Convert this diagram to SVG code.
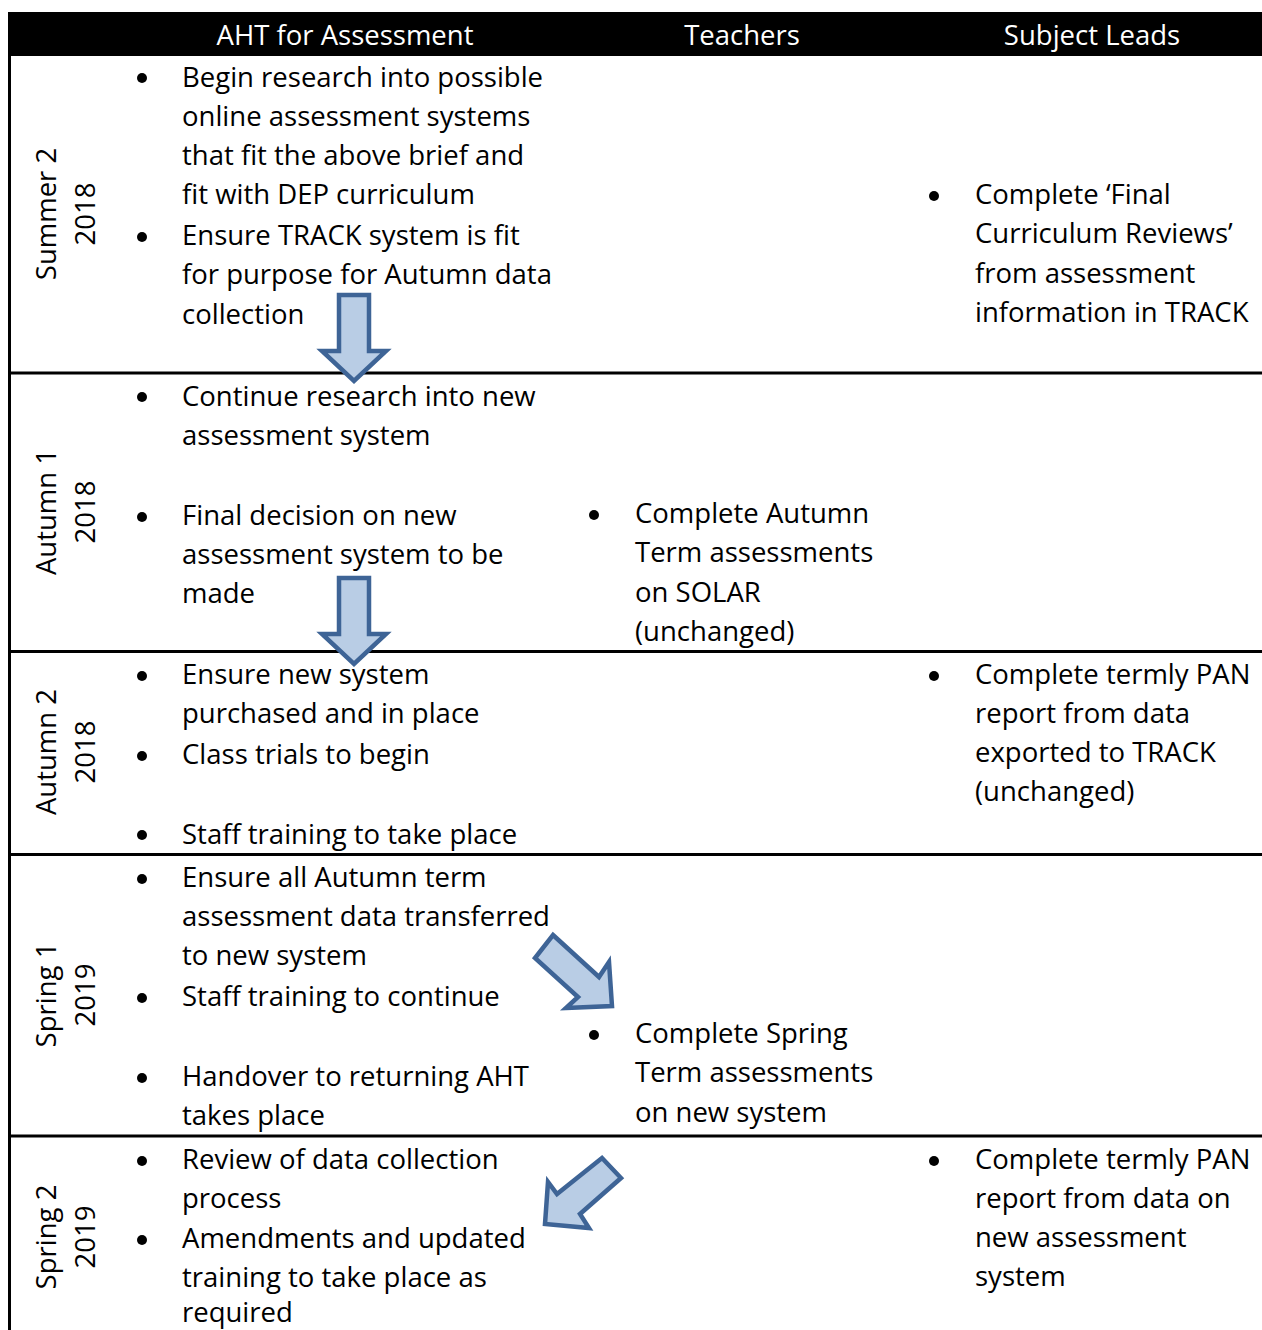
<svg xmlns="http://www.w3.org/2000/svg" width="1262" height="1330" viewBox="0 0 1262 1330">
<style>
text{font-family:"Open Sans","Noto Sans","Liberation Sans",sans-serif;font-size:27.5px;fill:#000}
.hd{fill:#fff;text-anchor:middle}
.lbl{text-anchor:middle}
.rule{stroke:#000;stroke-width:3;fill:none}
.arrow{fill:#b9cde5;stroke:#3e6496;stroke-width:4.5;stroke-linejoin:miter}
</style>
<defs>
<circle id="b" r="5" fill="#000"/>
</defs>
<rect x="0" y="0" width="1262" height="1330" fill="#fff"/>

<g id="table">
<rect x="8" y="12" width="1254" height="44" fill="#000"/>
<line class="rule" x1="9.5" y1="12" x2="9.5" y2="1330"/>
<line class="rule" x1="9" y1="373" x2="1262" y2="373"/>
<line class="rule" x1="9" y1="651.5" x2="1262" y2="651.5"/>
<line class="rule" x1="9" y1="854.5" x2="1262" y2="854.5"/>
<line class="rule" x1="9" y1="1136" x2="1262" y2="1136"/>
</g>

<g id="header">
<text class="hd" x="345" y="45">AHT for Assessment</text>
<text class="hd" x="742" y="45">Teachers</text>
<text class="hd" x="1092" y="45">Subject Leads</text>
</g>

<g id="row-summer2">
<text class="lbl" transform="translate(56,214) rotate(-90)">Summer 2</text>
<text class="lbl" transform="translate(95,214) rotate(-90)">2018</text>
<use href="#b" x="142" y="78"/>
<text x="182" y="87">Begin research into possible</text>
<text x="182" y="126">online assessment systems</text>
<text x="182" y="165">that fit the above brief and</text>
<text x="182" y="204">fit with DEP curriculum</text>
<use href="#b" x="142" y="237"/>
<text x="182" y="245">Ensure TRACK system is fit</text>
<text x="182" y="284">for purpose for Autumn data</text>
<text x="182" y="324">collection</text>
<use href="#b" x="934" y="196"/>
<text x="975" y="204">Complete ‘Final</text>
<text x="975" y="243">Curriculum Reviews’</text>
<text x="975" y="283">from assessment</text>
<text x="975" y="322">information in TRACK</text>
</g>

<g id="row-autumn1">
<text class="lbl" transform="translate(56,512) rotate(-90)">Autumn 1</text>
<text class="lbl" transform="translate(95,512) rotate(-90)">2018</text>
<use href="#b" x="142" y="397"/>
<text x="182" y="406">Continue research into new</text>
<text x="182" y="445">assessment system</text>
<use href="#b" x="142" y="517"/>
<text x="182" y="525">Final decision on new</text>
<text x="182" y="564">assessment system to be</text>
<text x="182" y="603">made</text>
<use href="#b" x="594" y="515"/>
<text x="635" y="523">Complete Autumn</text>
<text x="635" y="562">Term assessments</text>
<text x="635" y="602">on SOLAR</text>
<text x="635" y="641">(unchanged)</text>
</g>

<g id="row-autumn2">
<text class="lbl" transform="translate(56,752) rotate(-90)">Autumn 2</text>
<text class="lbl" transform="translate(95,752) rotate(-90)">2018</text>
<use href="#b" x="142" y="676"/>
<text x="182" y="684">Ensure new system</text>
<text x="182" y="723">purchased and in place</text>
<use href="#b" x="142" y="756"/>
<text x="182" y="764">Class trials to begin</text>
<use href="#b" x="142" y="835"/>
<text x="182" y="844">Staff training to take place</text>
<use href="#b" x="934" y="676"/>
<text x="975" y="684">Complete termly PAN</text>
<text x="975" y="723">report from data</text>
<text x="975" y="762">exported to TRACK</text>
<text x="975" y="801">(unchanged)</text>
</g>

<g id="row-spring1">
<text class="lbl" transform="translate(56,995) rotate(-90)">Spring 1</text>
<text class="lbl" transform="translate(95,995) rotate(-90)">2019</text>
<use href="#b" x="142" y="879"/>
<text x="182" y="887">Ensure all Autumn term</text>
<text x="182" y="926">assessment data transferred</text>
<text x="182" y="965">to new system</text>
<use href="#b" x="142" y="998"/>
<text x="182" y="1006">Staff training to continue</text>
<use href="#b" x="142" y="1078"/>
<text x="182" y="1086">Handover to returning AHT</text>
<text x="182" y="1125">takes place</text>
<use href="#b" x="594" y="1035"/>
<text x="635" y="1043">Complete Spring</text>
<text x="635" y="1082">Term assessments</text>
<text x="635" y="1122">on new system</text>
</g>

<g id="row-spring2">
<text class="lbl" transform="translate(56,1237) rotate(-90)">Spring 2</text>
<text class="lbl" transform="translate(95,1237) rotate(-90)">2019</text>
<use href="#b" x="142" y="1161"/>
<text x="182" y="1169">Review of data collection</text>
<text x="182" y="1208">process</text>
<use href="#b" x="142" y="1240"/>
<text x="182" y="1248">Amendments and updated</text>
<text x="182" y="1287">training to take place as</text>
<text x="182" y="1322">required</text>
<use href="#b" x="934" y="1161"/>
<text x="975" y="1169">Complete termly PAN</text>
<text x="975" y="1208">report from data on</text>
<text x="975" y="1247">new assessment</text>
<text x="975" y="1286">system</text>
</g>

<g id="connectors">
<polygon class="arrow" points="339,295 369,295 369,351 386,351 354,381 322,351 339,351"/>
<polygon class="arrow" points="339,578 369,578 369,634 386,634 354,664 322,634 339,634"/>
<polygon class="arrow" points="553,935 599,977 609,962 612,1006 566,1008 578,997 535,958"/>
<polygon class="arrow" points="602,1158 621,1178 580,1214 589,1228 545,1224 548,1182 557,1194"/>
</g>
</svg>
